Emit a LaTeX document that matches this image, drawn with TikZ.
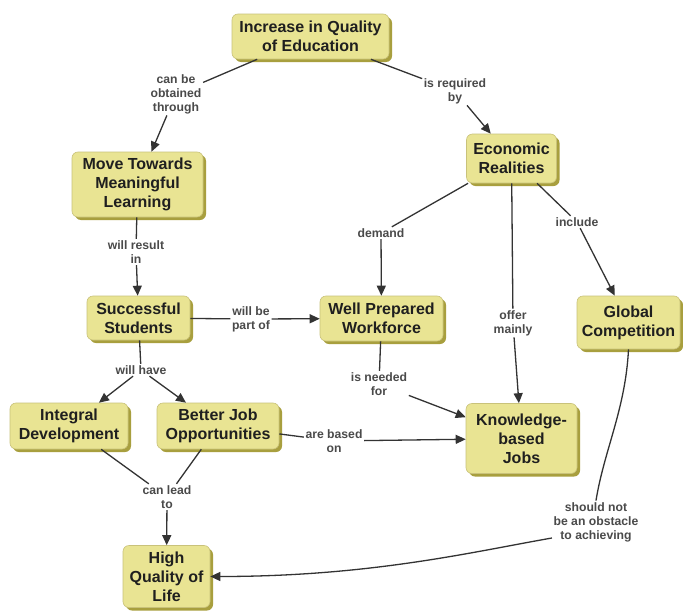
\documentclass[tikz,border=0pt]{standalone}
\usepackage{fontspec}
\setmainfont{Liberation Sans}
\usetikzlibrary{arrows.meta,shadows}
\definecolor{nodefill}{HTML}{E9E493}
\definecolor{nodeborder}{HTML}{C9C27A}
\definecolor{nodeshadow}{HTML}{A89F3E}
\definecolor{edgecol}{HTML}{333333}
\definecolor{labtext}{HTML}{4A4A4A}
\begin{document}
\begin{tikzpicture}[x=1pt,y=-1pt,
  concept/.style={draw=nodeborder, line width=0.6pt, fill=nodefill, rounded corners=6pt,
    align=center, font=\fontsize{16}{18.8}\selectfont\bfseries, text=black!88, inner sep=2pt,
    drop shadow={shadow xshift=3pt, shadow yshift=-3pt, fill=nodeshadow, opacity=1}},
  lab/.style={align=center, font=\fontsize{12.2}{14}\selectfont\bfseries, text=labtext, inner sep=1.5pt},
  ln/.style={draw=edgecol, line width=1.3pt},
  arr/.style={ln, -{Triangle[length=10pt,width=9pt]}}]
\fill[white] (0,0) rectangle (683,613);
\useasboundingbox (0,0) rectangle (683,613);

% concepts
\node[concept, minimum width=157pt, minimum height=45pt] (inc) at (310.5,36.5) {Increase in Quality\\of Education};
\node[concept, minimum width=131pt, minimum height=65pt] (move) at (137.5,184.5) {Move Towards\\Meaningful\\Learning};
\node[concept, minimum width=90pt, minimum height=49pt] (econ) at (511.5,158.5) {Economic\\Realities};
\node[concept, minimum width=103pt, minimum height=44pt] (stud) at (138.5,318) {Successful\\Students};
\node[concept, minimum width=123pt, minimum height=45pt] (work) at (381.5,318.5) {Well Prepared\\Workforce};
\node[concept, minimum width=103pt, minimum height=53pt] (glob) at (628.5,322.5) {Global\\Competition};
\node[concept, minimum width=118pt, minimum height=46pt] (integ) at (69,426) {Integral\\Development};
\node[concept, minimum width=122pt, minimum height=46pt] (better) at (218,426) {Better Job\\Opportunities};
\node[concept, minimum width=111pt, minimum height=70pt] (know) at (521.5,438.5) {Knowledge-\\based\\Jobs};
\node[concept, minimum width=87pt, minimum height=62pt] (hq) at (166.5,576.5) {High\\Quality of\\Life};

% linking phrases
\node[lab] (l1) at (176,94) {can be\\obtained\\through};
\node[lab] (l2) at (455,91) {is required\\by};
\node[lab] (l3) at (136,252) {will result\\in};
\node[lab] (l4) at (251,319) {will be\\part of};
\node[lab] (l5) at (381,233) {demand};
\node[lab] (l6) at (513,323) {offer\\mainly};
\node[lab] (l7) at (577,222) {include};
\node[lab] (l8) at (141,370) {will have};
\node[lab] (l9) at (379,384) {is needed\\for};
\node[lab] (l10) at (334,441) {are based\\on};
\node[lab] (l11) at (167,497) {can lead\\to};
\node[lab] (l12) at (596,522) {should not\\be an obstacle\\to achieving};
\coordinate (l12out) at ([yshift=-16pt]l12.west);

% connectors
\draw[ln] (inc) -- (l1);  \draw[arr] (l1) -- (move);
\draw[ln] (inc) -- (l2);  \draw[arr] (l2) -- (econ);
\draw[ln] (move) -- (l3); \draw[arr] (l3) -- (stud);
\draw[ln] (stud) -- (l4); \draw[arr] (l4) -- (work);
\draw[ln] (econ) -- (l5); \draw[arr] (l5) -- (work);
\draw[ln] (econ) -- (l6); \draw[arr] (l6) -- (know);
\draw[ln] (econ) -- (l7); \draw[arr] (l7) -- (glob);
\draw[ln] (stud) -- (l8); \draw[arr] (l8) -- (integ); \draw[arr] (l8) -- (better);
\draw[ln] (work) -- (l9); \draw[arr] (l9) -- (know);
\draw[ln] (better) -- (l10); \draw[arr] (l10) -- (know);
\draw[ln] (integ) -- (l11); \draw[ln] (better) -- (l11); \draw[arr] (l11) -- (hq);
\draw[ln] (glob.south) .. controls +(-3,60) and +(8,-50) .. (l12.north);
\draw[arr] (l12out) .. controls +(-80,14) and +(160,0) .. (hq.east);
\end{tikzpicture}
\end{document}
